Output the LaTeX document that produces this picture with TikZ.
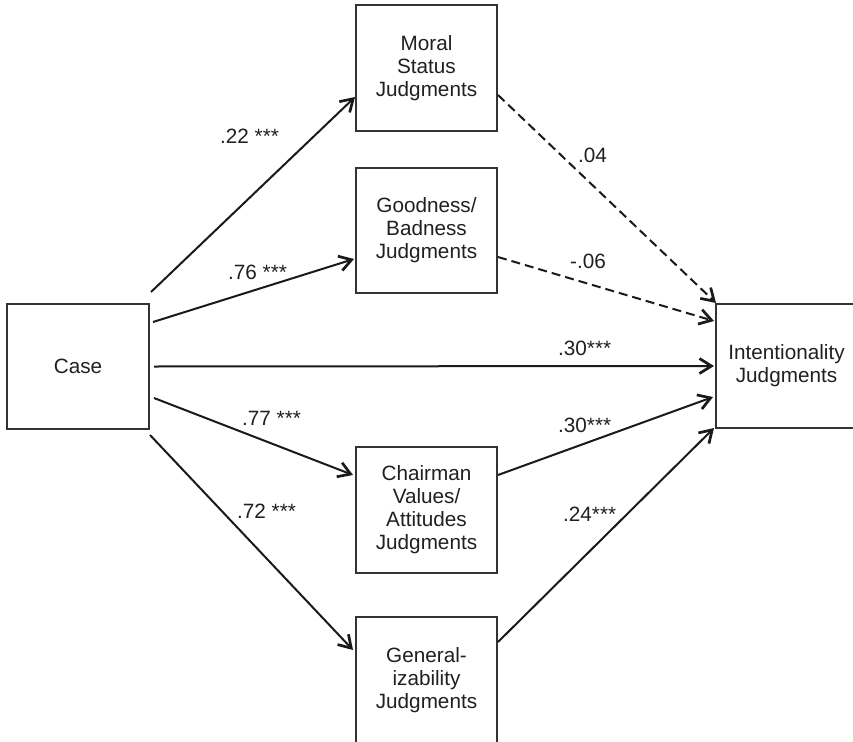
\documentclass[tikz,border=0pt]{standalone}
\usepackage{fontspec}
\setmainfont{Liberation Sans}
\usetikzlibrary{arrows.meta}
\definecolor{txt}{HTML}{231F20}
\definecolor{boxc}{HTML}{333333}
\definecolor{arrc}{HTML}{1A1A1A}
\begin{document}
\begin{tikzpicture}[x=1pt,y=-1pt,
  box/.style={draw=boxc, line width=1.3pt, minimum width=141pt, minimum height=126pt,
    inner sep=0pt, outer sep=0pt, align=center, text=txt,
    font=\fontsize{20.7}{23}\selectfont},
  arr/.style={draw=arrc, line width=2pt, -{Straight Barb[length=12pt,width=15pt,line width=2.7pt]}},
  dsh/.style={arr, dash pattern=on 9pt off 5pt},
  lab/.style={anchor=base west, inner sep=0pt, text=txt, font=\fontsize{20.7}{24}\selectfont}]
\path[use as bounding box, clip] (0,0) rectangle (853,741);
\fill[white] (0,0) rectangle (853,741);

\node[box, minimum width=142pt, minimum height=125pt] (case) at (78,366.5) {Case};
\node[box] (moral) at (426.5,68) {\raisebox{-3pt}{\parbox{130pt}{\centering Moral\\Status\\Judgments}}};
\node[box, minimum height=125pt] (good) at (426.5,230.5) {\raisebox{-2pt}{\parbox{130pt}{\centering Goodness/\\Badness\\Judgments}}};
\node[box, minimum height=124pt] (intent) at (786.5,366) {Intentionality\\Judgments};
\node[box] (chair) at (426.5,510) {Chairman\\Values/\\Attitudes\\Judgments};
\node[box] (gen) at (426.5,680) {General-\\izability\\Judgments};

% Case outgoing
\draw[arr] ([shift={(2,-12)}]case.north east) -- ([shift={(-1,29)}]moral.west);
\draw[arr] ([shift={(4,18)}]case.north east) -- ([shift={(-2,28.5)}]good.west);
\draw[arr] ([shift={(5,0)}]case.east) -- ([shift={(-2,0)}]intent.west);
\draw[arr] ([shift={(5,31.5)}]case.east) -- ([shift={(-3,-35)}]chair.west);
\draw[arr] ([shift={(1,6)}]case.south east) -- ([shift={(-3,-30)}]gen.west);

% Mediators to intentionality
\draw[dsh] ([shift={(1,27)}]moral.east) -- ([shift={(0,-1)}]intent.north west);
\draw[dsh] ([shift={(1,26.5)}]good.east) -- ([shift={(-2,-45)}]intent.west);
\draw[arr] ([shift={(1,-35)}]chair.east) -- ([shift={(-3,31)}]intent.west);
\draw[arr] ([shift={(1,-38)}]gen.east) -- ([shift={(-2,0)}]intent.south west);

% Labels
\node[lab] (l1) at (220,143) {.22 ***};
\node[lab] (l2) at (228,279) {.76 ***};
\node[lab] (l3) at (242,425) {.77 ***};
\node[lab] (l4) at (237,518) {.72 ***};
\node[lab] (l5) at (578,162) {.04};
\node[lab] (l6) at (570,268) {-.06};
\node[lab] (l7) at (558,355) {.30***};
\node[lab] (l8) at (558,432) {.30***};
\node[lab] (l9) at (563,521) {.24***};
\end{tikzpicture}
\end{document}
